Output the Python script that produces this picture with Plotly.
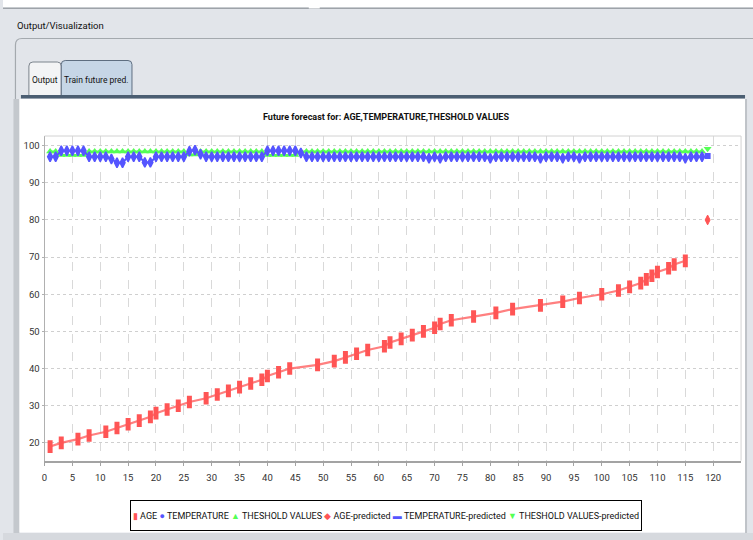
import plotly.graph_objects as go

# ---------------- data ----------------
age_steps = [1, 3, 6, 8, 11, 13, 15, 17, 19, 20, 22, 24, 26, 29, 31, 33, 35, 37, 39, 40,
             42, 44, 49, 52, 54, 56, 58, 61, 62, 64, 66, 68, 70, 71, 73, 77, 81, 84, 89, 93,
             96, 100, 103, 105, 107, 108, 109, 110, 112, 113, 115]
age_values = [19, 20, 21, 22, 23, 24, 25, 26, 27, 28, 29, 30, 31, 32, 33, 34, 35, 36, 37, 38,
              39, 40, 41, 42, 43, 44, 45, 46, 47, 48, 49, 50, 51, 52, 53, 54, 55, 56, 57, 58,
              59, 60, 61, 62, 63, 64, 65, 66, 67, 68, 69]

steps = list(range(1, 119))
temperature = [
    97.0, 97.0, 98.6, 98.6, 98.6, 98.6, 98.6, 97.0, 97.0, 97.0,
    97.0, 96.4, 95.4, 95.4, 97.0, 97.0, 97.0, 95.5, 95.5, 97.0,
    97.0, 97.0, 97.0, 97.0, 97.0, 98.5, 98.8, 97.7, 97.0, 97.0,
    97.0, 97.0, 97.0, 97.0, 97.0, 97.0, 97.0, 97.0, 97.0, 98.6,
    98.6, 98.6, 98.6, 98.6, 98.6, 98.0, 97.0, 97.0, 97.0, 97.0,
    97.0, 97.0, 97.0, 97.0, 97.0, 97.0, 97.0, 97.0, 97.0, 97.0,
    97.0, 97.0, 97.0, 97.0, 97.0, 97.0, 97.0, 97.0, 96.6, 97.0,
    96.6, 97.0, 97.0, 97.0, 97.0, 97.0, 97.0, 97.0, 97.0, 96.6,
    97.0, 97.0, 97.0, 97.0, 97.0, 97.0, 97.0, 97.0, 96.6, 97.0,
    97.0, 97.0, 96.6, 97.0, 97.0, 96.6, 97.0, 97.0, 97.0, 97.0,
    97.0, 97.0, 97.0, 97.0, 97.0, 97.0, 97.0, 97.0, 97.0, 97.0,
    97.0, 97.0, 97.0, 97.0, 96.6, 97.0, 97.0, 97.0,
]
threshold = [
    98.4, 98.4, 97.5, 97.5, 97.5, 97.5, 97.5, 98.4, 98.4, 98.4,
    98.4, 98.4, 98.4, 98.4, 98.4, 98.4, 98.4, 98.4, 98.4, 98.4,
    98.4, 98.4, 98.4, 98.4, 98.4, 97.6, 97.6, 98.4, 98.4, 98.4,
    98.4, 98.4, 98.4, 98.4, 98.4, 98.4, 98.4, 98.4, 98.4, 97.5,
    97.5, 97.5, 97.5, 97.5, 97.5, 98.4, 98.4, 98.4, 98.4, 98.4,
    98.4, 98.4, 98.4, 98.4, 98.4, 98.4, 98.4, 98.4, 98.4, 98.4,
    98.4, 98.4, 98.4, 98.4, 98.4, 98.4, 98.4, 98.4, 98.4, 98.4,
    98.4, 98.4, 98.4, 98.4, 98.4, 98.4, 98.4, 98.4, 98.4, 98.4,
    98.4, 98.4, 98.4, 98.4, 98.4, 98.4, 98.4, 98.4, 98.4, 98.4,
    98.4, 98.4, 98.4, 98.4, 98.4, 98.4, 98.4, 98.4, 98.4, 98.4,
    98.4, 98.4, 98.4, 98.4, 98.4, 98.4, 98.4, 98.4, 98.4, 98.4,
    98.4, 98.4, 98.4, 98.4, 98.4, 98.4, 98.4, 98.4,
]

pred_step = [119]
age_pred = [80]
temperature_pred = [97.2]
threshold_pred = [99.2]

x_ticks = [0, 5, 10, 15, 20, 25, 30, 35, 40, 45, 50, 55, 60, 65, 70, 75, 80, 85, 90, 95,
           100, 105, 110, 115, 120]
y_ticks = [20, 30, 40, 50, 60, 70, 80, 90, 100]

series_names = ["AGE", "TEMPERATURE", "THESHOLD VALUES",
                "AGE-predicted", "TEMPERATURE-predicted", "THESHOLD VALUES-predicted"]
chart_title = "Future forecast for: AGE,TEMPERATURE,THESHOLD VALUES"

RED, BLUE, GREEN = "#ff5555", "#5555ff", "#55ff55"
FONT = "Roboto, Liberation Sans, sans-serif"

# ---------------- figure ----------------
W, H = 753, 540


def px(x):
    return x / W


def py(y):
    return 1 - y / H


fig = go.Figure()

# drawing order: threshold at the back, then temperature, then age on top
fig.add_trace(go.Scatter(
    x=steps, y=threshold, name=series_names[2], mode="lines+markers",
    line=dict(color=GREEN, width=2),
    marker=dict(symbol="triangle-up", size=7, color=GREEN),
    showlegend=False))
fig.add_trace(go.Scatter(
    x=steps, y=temperature, name=series_names[1], mode="lines+markers",
    line=dict(color=BLUE, width=2),
    marker=dict(symbol="diamond-tall", size=7, color=BLUE, line=dict(color=BLUE, width=1.5)),
    showlegend=False))
fig.add_trace(go.Scatter(
    x=age_steps, y=age_values, name=series_names[0], mode="lines",
    line=dict(color="rgba(255,85,85,0.75)", width=2.2),
    showlegend=False))
fig.add_trace(go.Scatter(
    x=age_steps, y=age_values, name=series_names[0], mode="markers",
    marker=dict(symbol="line-ns", size=9, line=dict(color=RED, width=5)),
    showlegend=False))
fig.add_trace(go.Scatter(
    x=pred_step, y=threshold_pred, name=series_names[5], mode="markers",
    marker=dict(symbol="triangle-down", size=7, color=GREEN), showlegend=False))
fig.add_trace(go.Scatter(
    x=pred_step, y=temperature_pred, name=series_names[4], mode="markers",
    marker=dict(symbol="square", size=6, color=BLUE), showlegend=False))
fig.add_trace(go.Scatter(
    x=pred_step, y=age_pred, name=series_names[3], mode="markers",
    marker=dict(symbol="diamond-tall", size=7, color=RED, line=dict(color=RED, width=1)),
    showlegend=False))

# ---------------- window chrome ----------------
shapes = []


def rect(x0, y0, x1, y1, fill, line=None, lw=0, layer="below"):
    shapes.append(dict(type="rect", xref="paper", yref="paper",
                       x0=px(x0), x1=px(x1), y0=py(y1), y1=py(y0),
                       fillcolor=fill, line=dict(color=line or fill, width=lw),
                       layer=layer))


def tab_path(x0, y0, x1, y1, r, fill, line):
    p = (f"M{px(x0)},{py(y1)} L{px(x0)},{py(y0 + r)} "
         f"Q{px(x0)},{py(y0)} {px(x0 + r)},{py(y0)} "
         f"L{px(x1 - r)},{py(y0)} Q{px(x1)},{py(y0)} {px(x1)},{py(y0 + r)} "
         f"L{px(x1)},{py(y1)} Z")
    shapes.append(dict(type="path", xref="paper", yref="paper", path=p,
                       fillcolor=fill, line=dict(color=line, width=1), layer="below"))


# top strip and separator
rect(0, 0, W, 7.5, "#ffffff")
rect(0, 7.5, W, 9, "#9ea3a9")
rect(307, 6, 318, 8.5, "#ffffff")
# rounded panel outline
panel = (f"M{px(12.5)},{py(540)} L{px(12.5)},{py(45)} "
         f"Q{px(12.5)},{py(38.5)} {px(19)},{py(38.5)} L{px(W)},{py(38.5)}")
shapes.append(dict(type="path", xref="paper", yref="paper", path=panel,
                   line=dict(color="#a4a9ae", width=1.2), layer="below"))
# tabs
tab_path(26, 62, 58.5, 96, 4, "#f3f4f5", "#7c848d")
tab_path(58.5, 60.5, 129.5, 96, 4, "#c6d6e6", "#5e6e80")
# chart panel
rect(10.5, 99, 16.5, 533, "#c4c8cd")
rect(16.5, 99, 745, 532.5, "#ffffff")
rect(745, 99, 747, 533, "#bfc3c8")
rect(18, 95, 745, 98.5, "#4b5e72")
rect(0, 533, W, H, "#d6d9de")

# plot frame (top and right edges)
shapes.append(dict(type="line", xref="paper", yref="paper",
                   x0=px(41.7), x1=px(741), y0=py(136), y1=py(136),
                   line=dict(color="#d2d2d2", width=1), layer="above"))
shapes.append(dict(type="line", xref="paper", yref="paper",
                   x0=px(741), x1=px(741), y0=py(136), y1=py(460.7),
                   line=dict(color="#d2d2d2", width=1), layer="above"))

annotations = [
    dict(text="Output/Visualization", x=px(12), y=py(25.5), xref="paper", yref="paper",
         xanchor="left", yanchor="middle", showarrow=False,
         font=dict(family=FONT, size=9.5, color="#111111")),
    dict(text="Output", x=px(42.2), y=py(80), xref="paper", yref="paper",
         xanchor="center", yanchor="middle", showarrow=False,
         font=dict(family=FONT, size=8.5, color="#111111")),
    dict(text="Train future pred.", x=px(94), y=py(79.5), xref="paper", yref="paper",
         xanchor="center", yanchor="middle", showarrow=False,
         font=dict(family=FONT, size=8.5, color="#111111")),
    dict(text="<b>" + chart_title + "</b>", x=px(384.5), y=py(117), xref="paper", yref="paper",
         xanchor="center", yanchor="middle", showarrow=False,
         font=dict(family=FONT, size=9, color="#111111")),
]

# legend row as rich text inside a bordered box
legend_glyphs = [("▮", RED), ("●", BLUE), ("▲", GREEN),
                 ("◆", RED), ("▬", BLUE), ("▼", GREEN)]
legend_text = " ".join(
    f'<span style="color:{c}">{g}</span> {n}' for (g, c), n in zip(legend_glyphs, series_names))
annotations.append(dict(
    text=legend_text, x=px(384.5), y=py(515.5), xref="paper", yref="paper",
    xanchor="center", yanchor="middle", showarrow=False, align="center",
    width=506, height=25, bgcolor="#ffffff", bordercolor="#000000", borderwidth=1,
    borderpad=2, font=dict(family=FONT, size=9, color="#111111")))

fig.update_layout(
    width=W, height=H, autosize=False,
    margin=dict(l=0, r=0, t=0, b=0),
    paper_bgcolor="#e2e5ea", plot_bgcolor="#ffffff",
    shapes=shapes, annotations=annotations,
    showlegend=False,
    xaxis=dict(domain=[px(41.7), px(741)], range=[0, 125],
               tickvals=x_ticks, ticktext=[str(v) for v in x_ticks],
               showgrid=True, gridcolor="#d9d9d9", griddash="dash", gridwidth=1,
               zeroline=False, showline=True, linecolor="#a3a3a3", linewidth=1.5,
               ticks="outside", ticklen=4, tickcolor="#a3a3a3", ticklabelstandoff=3,
               tickfont=dict(family=FONT, size=9.5, color="#333333")),
    yaxis=dict(domain=[py(460.7), py(136)], range=[15.2, 102.6],
               tickvals=y_ticks, ticktext=[str(v) for v in y_ticks],
               showgrid=True, gridcolor="#cfcfcf", griddash="dot", gridwidth=1,
               zeroline=False, showline=True, linecolor="#b0b0b0", linewidth=1,
               ticks="outside", ticklen=2, tickcolor="#b0b0b0",
               tickfont=dict(family=FONT, size=9.5, color="#333333")),
)

fig.write_html("out.html")
